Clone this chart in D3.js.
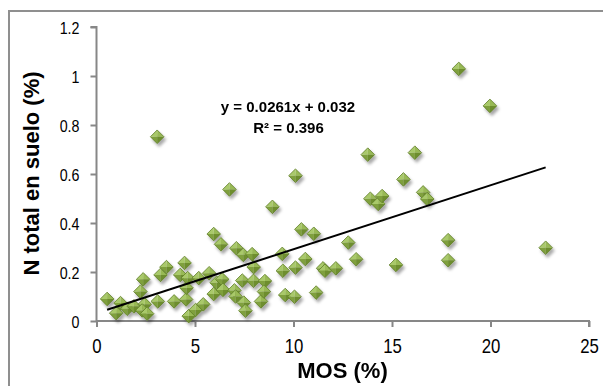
<!DOCTYPE html>
<html><head><meta charset="utf-8">
<script src="https://cdn.jsdelivr.net/npm/d3@7"></script>
<style>body{margin:0;background:#fff}svg{display:block}</style>
</head><body>
<svg id="c" width="603" height="386"></svg>
<script>
const mos = [0.54,1.0,1.22,1.56,1.9,2.23,2.37,2.45,2.32,2.57,3.08,3.11,3.25,3.55,3.94,4.25,4.47,4.55,4.57,4.63,4.68,5.03,5.42,5.19,5.72,5.95,6.32,5.95,6.1,6.38,6.42,6.75,7.0,7.06,7.1,7.45,7.4,7.48,7.56,7.9,7.98,7.97,8.35,8.55,8.5,8.93,9.43,9.46,9.58,10.05,10.1,10.1,10.4,10.6,11.03,11.15,11.5,11.6,12.15,12.78,13.18,13.77,13.9,14.3,14.5,15.2,15.58,16.16,16.58,16.79,17.85,17.85,18.39,19.97,22.8];
const nTotal = [0.09,0.032,0.073,0.05,0.06,0.12,0.17,0.068,0.043,0.03,0.752,0.08,0.188,0.22,0.08,0.188,0.237,0.088,0.135,0.175,0.02,0.045,0.068,0.175,0.195,0.355,0.313,0.11,0.156,0.17,0.127,0.537,0.125,0.10,0.297,0.27,0.165,0.075,0.042,0.273,0.22,0.164,0.08,0.163,0.12,0.466,0.274,0.205,0.106,0.099,0.218,0.593,0.374,0.253,0.356,0.116,0.215,0.205,0.215,0.32,0.252,0.679,0.499,0.478,0.51,0.229,0.578,0.687,0.525,0.498,0.33,0.248,1.029,0.878,0.299];
const xTicks = [0,5,10,15,20,25];
const xTickLabels = ["0","5","10","15","20","25"];
const yTicks = [0,0.2,0.4,0.6,0.8,1,1.2];
const yTickLabels = ["0","0.2","0.4","0.6","0.8","1","1.2"];
const slope = 0.0261, intercept = 0.032;
const eqLabel = "y = 0.0261x + 0.032";
const r2Label = "R² = 0.396";
const xTitle = "MOS (%)";
const yTitle = "N total en suelo (%)";

const svg = d3.select("#c");
const font = "'Liberation Sans', Arial, sans-serif";

// outer chart border
svg.append("rect").attr("x",9).attr("y",11).attr("width",620).attr("height",400)
  .attr("fill","none").attr("stroke","#8f8f8f").attr("stroke-width",2);

const x = d3.scaleLinear().domain([0,25]).range([96.5,589]);
const y = d3.scaleLinear().domain([0,1.2]).range([321,27]);

const defs = svg.append("defs");
const f = defs.append("filter").attr("id","sh").attr("x","-50%").attr("y","-50%").attr("width","200%").attr("height","200%");
f.append("feDropShadow").attr("dx",2).attr("dy",3).attr("stdDeviation",1.6).attr("flood-color","#000").attr("flood-opacity",0.35);

// axes
const axisColor = "#878787";
const gy = svg.append("g").attr("transform",`translate(${x(0)},0)`)
  .call(d3.axisLeft(y).tickValues(yTicks).tickFormat((d,i)=>yTickLabels[i]).tickSize(6).tickPadding(0));
const gx = svg.append("g").attr("transform",`translate(0,${y(0)})`)
  .call(d3.axisBottom(x).tickValues(xTicks).tickFormat((d,i)=>xTickLabels[i]).tickSize(6).tickPadding(0));
[gx,gy].forEach(g=>{
  g.select(".domain").attr("stroke",axisColor).attr("stroke-width",2);
  g.selectAll(".tick line").attr("stroke",axisColor).attr("stroke-width",2);
});
gy.select(".domain").attr("d",`M-6,${y(1.2)}H0V${y(0)}`);
gx.select(".domain").attr("d",`M${x(0)},0H${x(25)}V6`);
gy.selectAll(".tick text").attr("x",0).attr("dy",0).attr("y",0)
  .attr("font-family",font).attr("font-size",17).attr("fill","#000")
  .attr("text-anchor","end").attr("dominant-baseline","central")
  .attr("transform","translate(-17,1) scale(0.84,1)");
gx.selectAll(".tick text").attr("y",0).attr("dy",0)
  .attr("font-family",font).attr("font-size",20).attr("fill","#000")
  .attr("text-anchor","middle")
  .attr("transform","translate(0,32) scale(0.84,1)");

// markers
const pts = mos.map((m,i)=>({m, n:nTotal[i]}));
const s = 6.8;
const mk = svg.append("g").attr("filter","url(#sh)");
const g = mk.selectAll("g.p").data(pts).join("g").attr("class","p")
  .attr("transform",d=>`translate(${x(d.m)},${y(d.n)})`);
g.append("path").attr("d",`M${-s},0L0,${-s}L0,0Z`).attr("fill","#a9c96a");
g.append("path").attr("d",`M0,${-s}L${s},0L0,0Z`).attr("fill","#98b955");
g.append("path").attr("d",`M${-s},0L0,${s}L0,0Z`).attr("fill","#7fa03d");
g.append("path").attr("d",`M${s},0L0,${s}L0,0Z`).attr("fill","#6e8e2f");
g.append("path").attr("d",`M${-s},0L0,${-s}L${s},0L0,${s}Z`).attr("fill","none").attr("stroke","#5f7d27").attr("stroke-width",0.8);

// trend line
const xmin = d3.min(mos), xmax = d3.max(mos);
svg.append("line").attr("x1",x(xmin)).attr("y1",y(slope*xmin+intercept))
  .attr("x2",x(xmax)).attr("y2",y(slope*xmax+intercept))
  .attr("stroke","#000").attr("stroke-width",2);

// equation
svg.append("text").attr("x",288).attr("y",112).attr("text-anchor","middle")
  .attr("font-family",font).attr("font-weight","bold").attr("font-size",15).text(eqLabel);
svg.append("text").attr("x",288.5).attr("y",133).attr("text-anchor","middle")
  .attr("font-family",font).attr("font-weight","bold").attr("font-size",15).text(r2Label);

// titles
svg.append("text").attr("x",342.5).attr("y",378).attr("text-anchor","middle")
  .attr("font-family",font).attr("font-weight","bold").attr("font-size",22).text(xTitle);
svg.append("text").attr("transform","translate(38.5,173.5) rotate(-90)").attr("text-anchor","middle")
  .attr("font-family",font).attr("font-weight","bold").attr("font-size",22).text(yTitle);
</script>
</body></html>
